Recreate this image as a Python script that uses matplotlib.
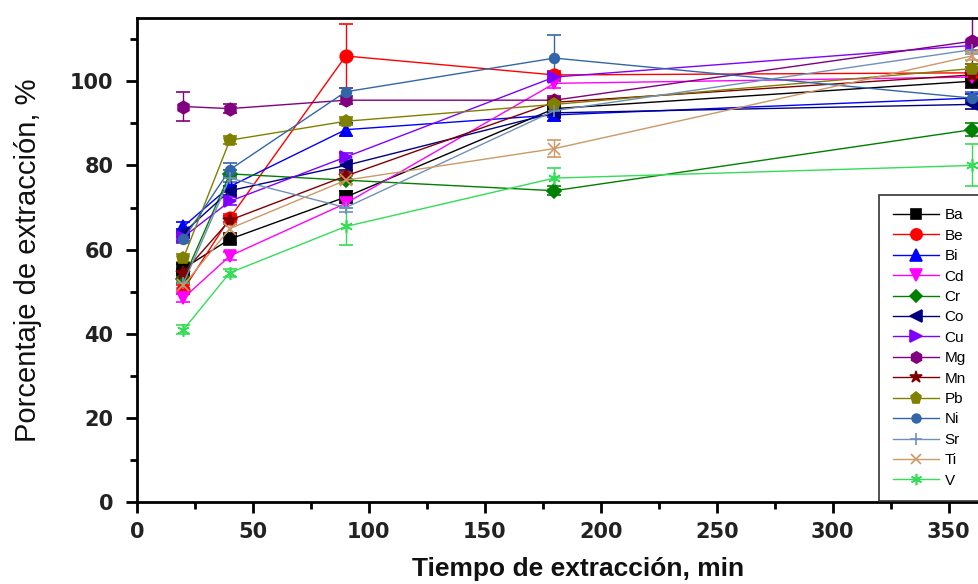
import matplotlib
matplotlib.use("Agg")
import matplotlib.pyplot as plt
from matplotlib.ticker import MultipleLocator
import numpy as np

# extraction time (min)
times = [20, 40, 90, 180, 360]

elements = ["Ba", "Be", "Bi", "Cd", "Cr", "Co", "Cu", "Mg", "Mn", "Pb", "Ni", "Sr", "Ti", "V"]

# extraction percentage per element
ba = [55.5, 62.5, 72.5, 93.5, 100.0]
be = [50.5, 67.5, 106.0, 101.5, 102.0]
bi = [65.5, 75.0, 88.5, 92.0, 96.0]
cd = [48.5, 58.5, 71.0, 99.5, 101.0]
cr = [53.0, 78.0, 76.5, 74.0, 88.5]
co = [64.0, 74.0, 80.0, 92.5, 94.5]
cu = [63.0, 71.5, 82.0, 101.0, 108.5]
mg = [94.0, 93.5, 95.5, 95.5, 109.5]
mn = [54.5, 67.0, 77.5, 95.0, 101.5]
pb = [58.0, 86.0, 90.5, 94.5, 103.0]
ni = [62.5, 79.0, 97.5, 105.5, 96.0]
sr = [52.0, 77.0, 70.0, 93.0, 107.5]
ti = [51.5, 65.0, 76.5, 84.0, 106.0]
v = [41.0, 54.5, 65.5, 77.0, 80.0]

# standard deviations
ba_err = [1.0, 1.0, 1.5, 1.5, 1.5]
be_err = [1.0, 1.0, 7.5, 1.0, 1.5]
bi_err = [1.0, 1.0, 1.5, 1.5, 1.0]
cd_err = [1.0, 1.0, 1.0, 1.0, 1.0]
cr_err = [1.0, 1.0, 1.0, 1.0, 1.5]
co_err = [1.0, 1.0, 1.0, 1.0, 1.0]
cu_err = [1.0, 1.0, 1.0, 1.0, 1.0]
mg_err = [3.5, 1.0, 1.0, 1.0, 5.5]
mn_err = [1.0, 1.0, 1.0, 1.0, 1.0]
pb_err = [1.0, 1.0, 1.0, 1.0, 1.0]
ni_err = [1.0, 1.5, 1.0, 5.5, 1.5]
sr_err = [1.0, 1.0, 1.0, 1.0, 1.0]
ti_err = [1.0, 1.0, 1.0, 2.0, 1.0]
v_err = [1.0, 1.0, 4.5, 2.5, 5.0]

series = [ba, be, bi, cd, cr, co, cu, mg, mn, pb, ni, sr, ti, v]
errors = [ba_err, be_err, bi_err, cd_err, cr_err, co_err, cu_err, mg_err, mn_err, pb_err, ni_err, sr_err, ti_err, v_err]

colors = ["#000000", "#FF0000", "#0000FF", "#FF00FF", "#008000", "#000080", "#8000FF",
          "#800080", "#800000", "#808000", "#3366A8", "#7090B8", "#CC9966", "#33DD55"]
markers = ["s", "o", "^", "v", "D", "<", ">", "h", "*", "p", "o", "+", "x", (6, 2, 0)]
sizes = [8, 9, 9, 9, 7, 9, 9, 9, 10, 9, 7, 9, 8, 9]

fig = plt.figure(figsize=(9.79, 5.84), dpi=100)
# axes runs past the right edge of the picture, as in the cropped original
ax = fig.add_axes([0.14, 0.14, 0.90, 0.829])

handles = []
for i, name in enumerate(elements):
    eb = ax.errorbar(times, series[i], yerr=errors[i], color=colors[i], marker=markers[i],
                     markersize=sizes[i], lw=1.0, elinewidth=1.0, capsize=5, capthick=1.0,
                     markeredgewidth=1.2, label=name)
    handles.append(eb[0])

ax.set_xlim(0, 380)
ax.set_ylim(0, 115)
ax.xaxis.set_major_locator(MultipleLocator(50))
ax.xaxis.set_minor_locator(MultipleLocator(25))
ax.yaxis.set_major_locator(MultipleLocator(20))
ax.yaxis.set_minor_locator(MultipleLocator(10))

for s in ax.spines.values():
    s.set_linewidth(2)
ax.tick_params(which="major", direction="out", length=8, width=2)
ax.tick_params(which="minor", direction="out", length=5, width=2)
ax.tick_params(axis="x", labelsize=15, pad=6)
ax.tick_params(axis="y", labelsize=15, pad=9)
for lab in ax.get_xticklabels() + ax.get_yticklabels():
    lab.set_fontfamily("DejaVu Sans")
    lab.set_fontweight("bold")
    lab.set_color("#222222")

ax.set_xlabel("Tiempo de extracción, min", fontsize=19, fontweight="bold",
              family="Liberation Sans", labelpad=11, color="#111111")
ax.set_ylabel("Porcentaje de extracción, %", fontsize=21,
              family="Liberation Sans", labelpad=20, color="#111111")

leg = fig.legend(handles, elements, loc="upper left", bbox_to_anchor=(0.89, 0.68), frameon=True,
                 fancybox=False, shadow=False, edgecolor="#333333",
                 prop={"family": "Liberation Sans", "size": 11},
                 handlelength=3.0, labelspacing=0.42, borderpad=0.9, handletextpad=0.4,
                 markerscale=0.9)
leg.get_frame().set_linewidth(1.2)
leg.get_frame().set_facecolor("white")
leg.get_frame().set_alpha(1.0)

fig.savefig("out.png", dpi=100)
